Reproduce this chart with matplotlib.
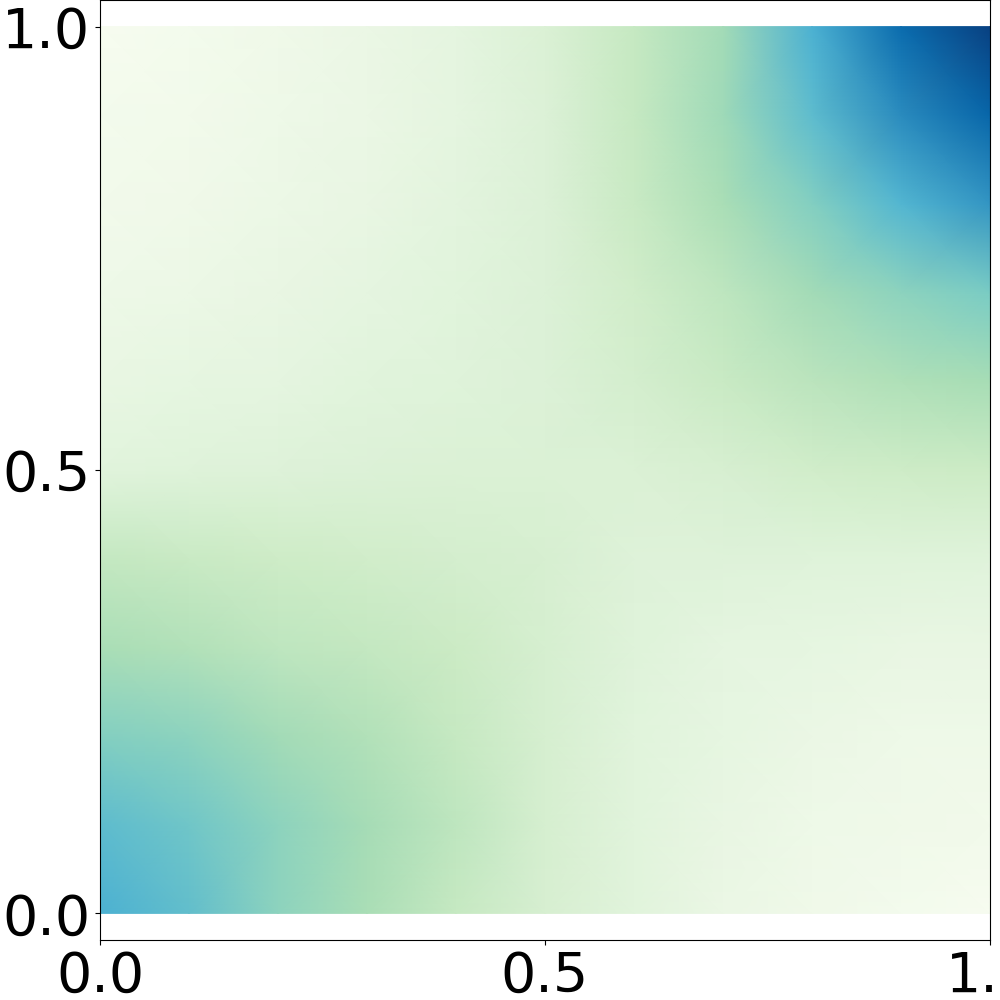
import matplotlib
matplotlib.use('Agg')
import matplotlib.pyplot as plt
import numpy as np

# grid positions (same for x and y)
x_vals = [0.0, 0.1, 0.2, 0.3, 0.4, 0.5, 0.6, 0.7, 0.8, 0.9, 1.0]
y_vals = [0.0, 0.1, 0.2, 0.3, 0.4, 0.5, 0.6, 0.7, 0.8, 0.9, 1.0]

# field values, one row per y (bottom to top)
row_y00 = [0.63, 0.57, 0.45, 0.37, 0.27, 0.18, 0.12, 0.07, 0.04, 0.02, 0.00]
row_y01 = [0.58, 0.53, 0.45, 0.38, 0.30, 0.19, 0.12, 0.08, 0.05, 0.04, 0.03]
row_y02 = [0.48, 0.45, 0.39, 0.34, 0.27, 0.19, 0.12, 0.09, 0.07, 0.05, 0.05]
row_y03 = [0.37, 0.34, 0.30, 0.28, 0.25, 0.19, 0.13, 0.10, 0.09, 0.08, 0.08]
row_y04 = [0.28, 0.26, 0.24, 0.22, 0.20, 0.18, 0.14, 0.14, 0.13, 0.13, 0.125]
row_y05 = [0.12, 0.13, 0.14, 0.15, 0.16, 0.16, 0.16, 0.18, 0.22, 0.24, 0.25]
row_y06 = [0.08, 0.09, 0.10, 0.12, 0.13, 0.15, 0.20, 0.26, 0.31, 0.35, 0.375]
row_y07 = [0.05, 0.06, 0.08, 0.10, 0.12, 0.15, 0.22, 0.30, 0.39, 0.45, 0.50]
row_y08 = [0.03, 0.04, 0.06, 0.08, 0.11, 0.15, 0.26, 0.37, 0.48, 0.61, 0.72]
row_y09 = [0.02, 0.03, 0.05, 0.07, 0.10, 0.15, 0.27, 0.40, 0.58, 0.75, 0.88]
row_y10 = [0.00, 0.02, 0.04, 0.07, 0.10, 0.16, 0.27, 0.39, 0.63, 0.86, 1.00]

tick_vals = [0.0, 0.5, 1.0]

z = np.array([row_y00, row_y01, row_y02, row_y03, row_y04, row_y05,
              row_y06, row_y07, row_y08, row_y09, row_y10])

fig = plt.figure(figsize=(10, 10), dpi=100)
ax = fig.add_axes([0.1, 0.06, 0.89, 0.94])
ax.pcolormesh(x_vals, y_vals, z, cmap='GnBu', vmin=0.0, vmax=1.0,
              shading='gouraud')
ax.set_xlim(0, 1)
ax.set_ylim(-0.03, 1.03)
ax.set_xticks(tick_vals)
ax.set_yticks(tick_vals)
ax.tick_params(labelsize=40)

fig.savefig('out.png', dpi=100)
